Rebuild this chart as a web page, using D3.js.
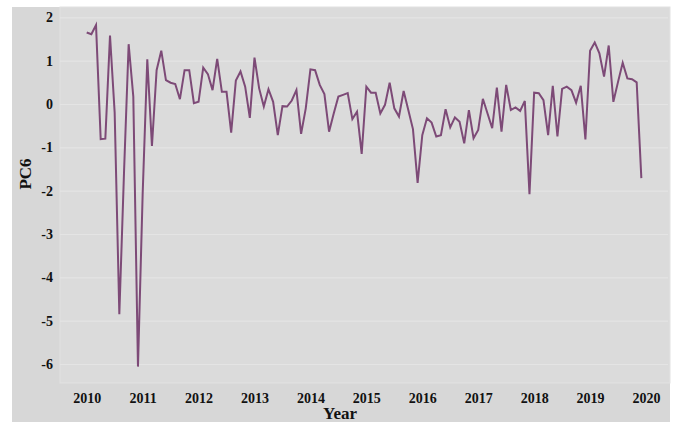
<!DOCTYPE html>
<html>
<head>
<meta charset="utf-8">
<script src="https://cdn.jsdelivr.net/npm/d3@7"></script>
<style>
  body { margin: 0; background: #fff; }
  text { font-family: "Liberation Serif", "Times New Roman", serif; font-weight: bold; fill: #111; }
</style>
</head>
<body>
<div id="chart"></div>
<script>
// monthly PC6 scores, Jan 2010 .. Dec 2019
let startYear = 2010;
let pc6 = [
  1.65, 1.61, 1.82, -0.81, -0.80, 1.58, -0.20, -4.85, -1.60, 1.38, 0.17, -6.06,
  -2.10, 1.03, -0.97, 0.78, 1.23, 0.55, 0.49, 0.46, 0.11, 0.78, 0.78, 0.02,
  0.05, 0.84, 0.69, 0.32, 1.04, 0.28, 0.28, -0.66, 0.54, 0.75, 0.40, -0.32,
  1.07, 0.36, -0.06, 0.34, 0.05, -0.72, -0.05, -0.06, 0.08, 0.32, -0.69, -0.10,
  0.80, 0.78, 0.44, 0.23, -0.64, -0.22, 0.17, 0.21, 0.25, -0.35, -0.18, -1.15,
  0.40, 0.26, 0.26, -0.22, -0.02, 0.49, -0.10, -0.29, 0.30, -0.14, -0.58, -1.82,
  -0.72, -0.33, -0.43, -0.75, -0.72, -0.12, -0.54, -0.31, -0.41, -0.91, -0.14, -0.79,
  -0.60, 0.12, -0.22, -0.56, 0.38, -0.64, 0.44, -0.14, -0.08, -0.16, 0.07, -2.08,
  0.26, 0.25, 0.09, -0.72, 0.42, -0.75, 0.35, 0.40, 0.32, 0.03, 0.42, -0.82,
  1.23, 1.42, 1.17, 0.63, 1.35, 0.05, 0.51, 0.95, 0.59, 0.57, 0.50, -1.71
];
let yearTicks = [2010, 2011, 2012, 2013, 2014, 2015, 2016, 2017, 2018, 2019, 2020];
let valueTicks = [-6, -5, -4, -3, -2, -1, 0, 1, 2];

let width = 675, height = 423;
let data = pc6.map(function(v, i){ return {t: startYear + i / 12, v: v}; });

let svg = d3.select("#chart").append("svg")
    .attr("width", width)
    .attr("height", height);

// gray backdrop and slightly lighter panel
svg.append("rect").attr("x", 12).attr("y", 7).attr("width", 658).attr("height", 415).attr("fill", "#d7d7d7");
svg.append("rect").attr("x", 60).attr("y", 7).attr("width", 610).attr("height", 376)
    .attr("fill", "#dbdbdb").attr("stroke", "#e2e2e2").attr("stroke-width", 1);

let x = d3.scaleLinear().domain([2010, 2020]).range([86.7, 646]);
let y = d3.scaleLinear().domain([-6, 2]).range([364, 17.3]);

// horizontal gridlines
let grid = svg.append("g").attr("transform", "translate(60,0)")
    .call(d3.axisLeft(y).tickValues(valueTicks).tickSize(-608).tickFormat(""));
grid.select(".domain").remove();
grid.selectAll("line").attr("stroke", "#e4e4e4").attr("stroke-width", 1.2);

// y axis labels (plain hyphen like the original)
let yAxis = svg.append("g").attr("transform", "translate(56,0)")
    .call(d3.axisLeft(y).tickValues(valueTicks).tickSize(0).tickPadding(3).tickFormat(function(d){ return String(d); }));
yAxis.select(".domain").remove();
yAxis.selectAll("text").style("font-size", "14px").style("font-family", "Liberation Serif").style("font-weight", "bold").attr("fill", "#111");

// x axis labels
let xAxis = svg.append("g").attr("transform", "translate(0,390)")
    .call(d3.axisBottom(x).tickValues(yearTicks).tickSize(0).tickPadding(3).tickFormat(function(d){ return String(d); }));
xAxis.select(".domain").remove();
xAxis.selectAll("text").style("font-size", "14px").style("font-family", "Liberation Serif").style("font-weight", "bold").attr("fill", "#111");

// the series
let line = d3.line()
    .x(function(d){ return x(d.t); })
    .y(function(d){ return y(d.v); });
svg.append("path")
    .datum(data)
    .attr("d", line)
    .attr("fill", "none")
    .attr("stroke", "#7d4a77")
    .attr("stroke-width", 2)
    .attr("stroke-linejoin", "miter");

// axis titles
svg.append("text")
    .attr("transform", "translate(31,174) rotate(-90)")
    .attr("text-anchor", "middle")
    .style("font-size", "17px")
    .text("PC6");
svg.append("text")
    .attr("x", 340).attr("y", 419)
    .attr("text-anchor", "middle")
    .style("font-size", "17px")
    .text("Year");
</script>
</body>
</html>
